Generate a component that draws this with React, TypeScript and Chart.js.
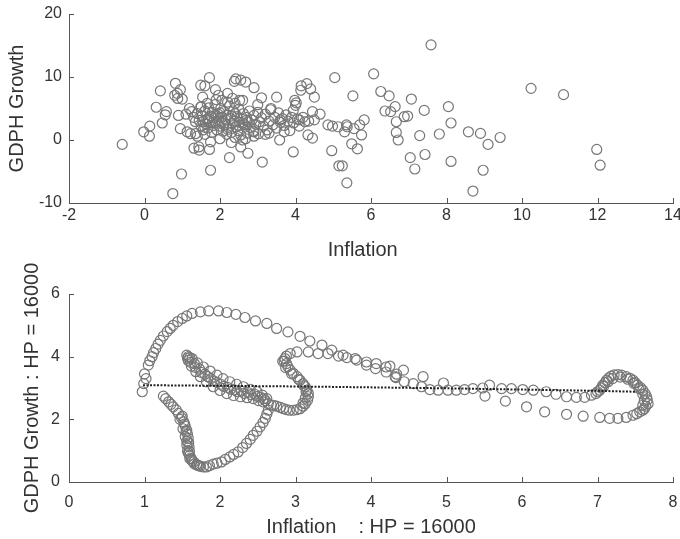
import React, { useEffect, useRef } from "react";
import { Chart, registerables } from "chart.js";

Chart.register(...registerables);

type Pt = [number, number];

// ---------- Top panel: Inflation vs GDPH Growth (raw) ----------
const topXTicks = { min: -2, max: 14, step: 2 };
const topYTicks = { min: -10, max: 20, step: 10 };

const rawLowInflation: Pt[] = [
  [-0.59, -0.7], [-0.02, 1.3], [0.13, 0.6], [0.14, 2.2], [0.42, 7.8], [0.31, 5.2],
  [0.47, 2.7], [0.58, 4.5], [0.55, 4.0], [0.75, -8.5], [0.98, -5.4], [0.82, 9.0],
  [0.95, 8.0], [0.8, 7.1], [0.88, 6.6], [1.0, 6.5], [0.9, 3.9], [0.95, 1.8],
  [1.13, 1.3], [1.1, 4.1], [0.87, 7.4],
];

const rawMidInflation: Pt[] = [
  [1.19, 5.0], [1.22, 1.0], [1.35, 1.0], [1.31, -1.3], [1.44, -1.1], [1.45, -1.6],
  [1.49, 8.7], [1.54, 6.8], [1.49, 5.2], [1.72, 9.9], [1.88, 8.0], [1.72, -1.5],
  [1.75, -4.8], [1.55, 2.9], [1.96, 7.1], [2.05, 6.3], [2.2, 7.4], [2.25, -2.8],
  [2.42, 9.7], [2.55, 9.5], [2.68, 9.2], [2.52, 6.3], [2.38, 9.3], [2.9, 8.3],
  [2.74, -2.1], [2.55, -1.1], [3.1, 6.7], [3.12, -3.5], [2.9, 1.3], [3.34, 4.8],
  [3.5, 6.8], [3.58, 0.0], [3.6, 3.2], [3.7, 1.3], [3.3, 1.1], [3.94, -1.9],
  [3.98, 6.3], [4.0, 5.5], [3.94, 4.7], [4.14, 7.9], [4.3, 8.95], [4.15, 8.6],
  [4.4, 8.1], [4.5, 6.8], [4.45, 4.5], [4.1, 3.2], [4.33, 0.8], [4.45, 0.3],
  [4.65, 4.1], [4.86, 2.4], [4.98, 2.2], [5.04, 9.9], [4.96, -1.7], [5.15, -4.1],
  [1.6, 8.6], [1.66, 5.8], [2.33, 6.6], [4.02, 5.9], [5.13, 2.1], [5.35, 2.4],
];

const rawCore: Pt[] = [
  [1.25, 4.5], [1.3, 3.6], [1.35, 2.9], [1.4, 4.2], [1.45, 3.1], [1.5, 2.2],
  [1.52, 3.8], [1.55, 1.6], [1.6, 4.6], [1.62, 2.6], [1.65, 3.3], [1.68, 1.9],
  [1.7, 5.1], [1.72, 2.9], [1.75, 3.8], [1.78, 1.2], [1.8, 4.4], [1.82, 2.3],
  [1.85, 3.5], [1.87, 5.6], [1.9, 2.8], [1.92, 1.6], [1.95, 4.1], [1.97, 3.0],
  [2.0, 2.2], [2.02, 5.0], [2.05, 3.6], [2.08, 1.4], [2.1, 4.5], [2.12, 2.7],
  [2.15, 3.2], [2.18, 0.9], [2.2, 4.0], [2.22, 2.0], [2.25, 5.4], [2.28, 3.4],
  [2.3, 1.2], [2.32, 2.6], [2.35, 4.6], [2.38, 3.0], [2.4, 0.4], [2.42, 2.1],
  [2.45, 3.7], [2.48, 1.5], [2.5, 4.9], [2.52, 2.8], [2.55, 0.8], [2.58, 3.3],
  [2.6, 1.9], [2.62, 4.2], [2.65, 2.4], [2.68, 0.2], [2.7, 3.6], [2.72, 1.1],
  [2.75, 2.9], [2.78, 4.6], [2.8, 2.0], [2.85, 3.2], [2.88, 1.4], [2.9, 3.9],
  [2.95, 2.5], [3.0, 4.4], [3.02, 1.0], [3.05, 2.9], [3.1, 3.5], [3.15, 2.2],
  [3.2, 4.1], [3.25, 1.6], [3.3, 3.0], [3.35, 5.0], [3.4, 2.4], [3.45, 3.6],
  [3.5, 1.9], [3.55, 4.3], [3.6, 2.8], [3.65, 3.4], [3.7, 2.3], [3.75, 4.0],
  [3.8, 3.0], [3.85, 1.5], [3.9, 3.6], [3.95, 2.7], [4.05, 3.3], [4.1, 2.2],
  [4.2, 3.6], [4.25, 2.9], [4.35, 3.0], [4.5, 3.2], [1.4, 0.6], [1.6, 0.9],
  [1.75, -0.3], [2.0, 0.2], [2.3, -0.4], [2.6, 0.0], [2.9, 0.6], [3.2, 0.9],
  [2.2, 6.0], [2.6, 6.3], [1.9, 6.4], [2.4, 5.8], [3.0, 5.6], [1.5, 5.3],
  [1.7, 3.4], [1.9, 3.9], [2.1, 2.4], [2.3, 3.8], [2.5, 2.3], [2.7, 3.1],
  [1.8, 2.7], [2.0, 4.3], [2.2, 1.7], [2.4, 4.2], [1.6, 2.0], [2.6, 2.7],
];

const rawHighInflation: Pt[] = [
  [7.59, 15.1], [6.07, 10.5], [5.52, 7.0], [6.26, 7.7], [6.48, 7.0], [7.07, 6.5],
  [6.64, 5.3], [6.37, 4.6], [6.52, 4.5], [7.41, 4.7], [8.05, 5.3], [6.88, 3.7],
  [6.97, 3.8], [6.67, 2.9], [6.67, 1.2], [6.72, 0.0], [8.12, 2.7], [7.29, 0.7],
  [7.81, 0.95], [8.58, 1.3], [8.9, 1.05], [9.42, 0.4], [9.1, -0.7], [5.82, 3.2],
  [5.7, 2.4], [5.55, 1.8], [5.37, 2.1], [5.3, 1.3], [5.75, 0.8], [5.49, -0.6],
  [5.64, -1.4], [5.24, -4.1], [5.36, -6.8], [7.04, -2.8], [7.43, -2.3], [7.16, -4.6],
  [8.12, -3.4], [8.97, -4.8], [8.7, -8.1], [10.24, 8.2], [11.1, 7.2], [11.98, -1.5],
  [12.07, -4.0],
];

// ---------- Bottom panel: HP-filtered trends (HP = 16000) ----------
const hpXTicks = { min: 0, max: 8, step: 1 };
const hpYTicks = { min: 0, max: 6, step: 2 };

const hpOuterArc: Pt[] = [
  [0.97, 2.88], [0.99, 3.14], [1.02, 3.3], [1.0, 3.45], [1.05, 3.73], [1.07, 3.87],
  [1.1, 4.0], [1.12, 4.13], [1.15, 4.26], [1.18, 4.4], [1.21, 4.52], [1.25, 4.66],
  [1.3, 4.8], [1.34, 4.9], [1.38, 5.0], [1.44, 5.12], [1.5, 5.22], [1.56, 5.3],
  [1.63, 5.38], [1.74, 5.43], [1.85, 5.46], [1.98, 5.46], [2.09, 5.41], [2.21, 5.35],
  [2.33, 5.25], [2.47, 5.14], [2.62, 5.06], [2.75, 4.9], [2.9, 4.79], [3.06, 4.65],
  [3.19, 4.5], [3.35, 4.37], [3.48, 4.21], [3.63, 4.05], [3.79, 3.94], [3.94, 3.83],
  [4.07, 3.78], [4.2, 3.67], [4.34, 3.44],
];

const hpMidTrail: Pt[] = [
  [2.93, 4.1], [3.02, 4.15], [3.17, 4.15], [3.3, 4.1], [3.43, 4.1], [3.57, 4.02],
  [3.68, 3.97], [3.81, 3.89], [3.94, 3.73], [4.06, 3.62], [4.2, 3.51], [4.33, 3.33],
  [4.43, 3.57], [4.25, 3.7], [4.32, 3.36], [4.44, 3.2], [4.56, 3.14], [4.69, 3.36],
  [4.67, 3.04], [4.78, 2.95], [4.89, 2.93], [4.96, 3.16], [5.02, 2.93], [5.13, 2.93],
  [5.24, 2.95], [5.35, 2.98], [5.48, 3.0], [5.57, 3.09], [5.73, 2.98], [5.86, 2.98],
  [6.01, 2.95], [6.15, 2.93], [6.32, 2.88], [6.45, 2.8], [6.59, 2.72], [6.72, 2.7],
  [6.83, 2.7], [6.92, 2.77], [6.98, 2.82],
];

const hpLowerTrail: Pt[] = [
  [5.51, 2.74], [5.78, 2.58], [6.06, 2.4], [6.3, 2.24], [6.59, 2.16], [6.81, 2.1],
  [7.03, 2.06], [7.16, 2.03], [7.27, 2.03], [7.38, 2.06], [7.47, 2.13], [7.56, 2.24],
  [7.62, 2.34], [7.67, 2.5],
];

const hpRightLoop: Pt[] = [
  [7.03, 2.93], [7.07, 3.09], [7.12, 3.25], [7.18, 3.38], [7.27, 3.43], [7.38, 3.36],
  [7.47, 3.25], [7.53, 3.09], [7.6, 2.93], [7.65, 2.72], [7.05, 3.0], [7.1, 3.17],
  [7.15, 3.32], [7.22, 3.42], [7.32, 3.41], [7.43, 3.31], [7.5, 3.17], [7.57, 3.01],
  [7.63, 2.82], [7.66, 2.62], [7.64, 2.42], [7.6, 2.29], [7.52, 2.18], [7.0, 2.88],
  [7.08, 3.05], [7.14, 3.2], [7.2, 3.3], [7.3, 3.35], [7.4, 3.28], [7.48, 3.15],
  [7.55, 2.98], [7.6, 2.8], [7.62, 2.6], [7.6, 2.45],
];

const hpSCurve: Pt[] = [
  [2.86, 3.94], [2.88, 3.78], [2.93, 3.57], [3.02, 3.36], [3.1, 3.14], [3.15, 2.93],
  [3.17, 2.72], [3.13, 2.5], [3.06, 2.34], [2.97, 2.29], [2.88, 2.31], [2.8, 2.38],
  [2.71, 2.45], [2.85, 3.86], [2.9, 3.68], [2.97, 3.47], [3.06, 3.25], [3.13, 3.04],
  [3.17, 2.83], [3.16, 2.61], [3.1, 2.42], [3.02, 2.31], [2.92, 2.29], [2.84, 2.34],
  [2.75, 2.42], [2.88, 4.02], [2.83, 3.85], [2.87, 3.65], [2.95, 3.45], [3.04, 3.28],
  [3.11, 3.08], [3.14, 2.88], [3.13, 2.68], [3.1, 2.52],
];

const hpInnerBand: Pt[] = [
  [1.56, 4.05], [1.58, 4.0], [1.63, 3.94], [1.7, 3.8], [1.78, 3.67], [1.87, 3.54],
  [1.96, 3.41], [2.04, 3.3], [2.13, 3.2], [2.22, 3.12], [2.31, 3.04], [2.4, 2.96],
  [2.49, 2.88], [2.56, 2.77], [2.62, 2.66], [1.58, 3.88], [1.62, 3.7], [1.68, 3.52],
  [1.74, 3.36], [1.82, 3.2], [1.91, 3.04], [2.0, 2.92], [2.09, 2.82], [2.18, 2.76],
  [2.27, 2.72], [2.36, 2.69], [2.44, 2.66], [2.51, 2.6], [2.57, 2.56], [2.64, 2.5],
  [1.6, 3.97], [1.66, 3.78], [1.73, 3.6], [1.8, 3.44], [1.88, 3.3], [1.96, 3.18],
  [2.05, 3.05], [2.14, 2.96], [2.23, 2.88], [2.32, 2.83], [2.41, 2.79], [2.5, 2.73],
  [2.58, 2.66], [1.57, 3.95], [1.61, 3.82], [1.67, 3.66], [1.75, 3.5], [1.84, 3.36],
  [1.92, 3.22], [2.01, 3.12], [2.1, 3.02], [2.19, 2.94], [2.28, 2.9], [2.37, 2.86],
  [2.46, 2.8], [2.54, 2.7], [2.6, 2.6],
];

const hpVCurve: Pt[] = [
  [1.25, 2.74], [1.28, 2.66], [1.32, 2.56], [1.35, 2.48], [1.38, 2.4], [1.42, 2.3],
  [1.45, 2.19], [1.49, 2.05], [1.52, 1.92], [1.54, 1.78], [1.56, 1.65], [1.57, 1.52],
  [1.58, 1.39], [1.585, 1.25], [1.59, 1.12], [1.595, 0.98], [1.6, 0.85], [1.62, 0.74],
  [1.65, 0.64], [1.69, 0.56], [1.74, 0.5], [1.78, 0.48], [1.82, 0.48], [1.86, 0.52],
  [1.91, 0.57], [1.96, 0.6], [2.02, 0.64], [2.07, 0.72], [2.13, 0.8], [2.18, 0.88],
  [2.24, 0.96], [2.3, 1.1], [2.35, 1.23], [2.4, 1.36], [2.44, 1.49], [2.49, 1.62],
  [2.53, 1.76], [2.57, 1.9], [2.6, 2.03], [2.62, 2.16], [2.64, 2.29], [2.68, 2.45],
  [1.5, 2.1], [1.53, 1.85], [1.55, 1.6], [1.56, 1.3], [1.57, 1.0], [1.6, 0.75],
  [1.66, 0.58], [1.72, 0.52], [1.47, 2.0], [1.51, 1.7], [1.54, 1.45], [1.56, 1.18],
  [1.58, 0.92], [1.63, 0.68], [1.7, 0.53],
];

const hpTrendLine: Pt[] = [
  [0.98, 3.09], [2.0, 3.07], [3.0, 3.05], [4.0, 3.02], [5.0, 2.99], [6.0, 2.95],
  [7.0, 2.91], [7.52, 2.88],
];

// ---------- styling ----------
const FONT = '"Liberation Sans", Arial, Helvetica, sans-serif';
const AXIS_COLOR = "#555555";
const TEXT_COLOR = "#333333";
const MARK_COLOR = "#777777";

const inwardTicks = {
  id: "inwardTicks",
  afterDraw(chart: any) {
    const { ctx } = chart;
    const xs = chart.scales.x;
    const ys = chart.scales.y;
    ctx.save();
    ctx.strokeStyle = AXIS_COLOR;
    ctx.lineWidth = 1;
    ctx.beginPath();
    xs.ticks.forEach((t: any) => {
      const px = Math.round(xs.getPixelForValue(t.value)) + 0.5;
      ctx.moveTo(px, ys.bottom);
      ctx.lineTo(px, ys.bottom - 5);
    });
    ys.ticks.forEach((t: any) => {
      const py = Math.round(ys.getPixelForValue(t.value)) + 0.5;
      ctx.moveTo(xs.left, py);
      ctx.lineTo(xs.left + 5, py);
    });
    ctx.stroke();
    ctx.restore();
  },
};

interface PanelOpts {
  xr: { min: number; max: number; step: number };
  yr: { min: number; max: number; step: number };
  xTitle: string;
  yTitle: string;
  xTitlePadBottom: number;
  yTitlePadTop: number;
  xTickPad: number;
  yTickPad: number;
  yWidth: number;
  xHeight: number;
  padTop: number;
}

function buildOptions(o: PanelOpts): any {
  const tickFont = { family: FONT, size: 16 };
  const titleFont = { family: FONT, size: 20 };
  return {
    responsive: false,
    animation: false,
    devicePixelRatio: 1,
    events: [],
    layout: { padding: { top: o.padTop, right: 7, left: 0, bottom: 0 } },
    plugins: { legend: { display: false }, tooltip: { enabled: false } },
    scales: {
      x: {
        type: "linear",
        position: "bottom",
        min: o.xr.min,
        max: o.xr.max,
        ticks: {
          stepSize: o.xr.step,
          color: TEXT_COLOR,
          font: tickFont,
          padding: o.xTickPad,
          maxRotation: 0,
          autoSkip: false,
        },
        grid: { display: false, drawTicks: false },
        border: { display: true, color: AXIS_COLOR, width: 1 },
        title: {
          display: true,
          text: o.xTitle,
          color: TEXT_COLOR,
          font: titleFont,
          padding: { top: 0, bottom: o.xTitlePadBottom },
        },
        afterFit: (s: any) => {
          s.height = o.xHeight;
          s.paddingLeft = 0;
          s.paddingRight = 0;
        },
      },
      y: {
        type: "linear",
        position: "left",
        min: o.yr.min,
        max: o.yr.max,
        ticks: {
          stepSize: o.yr.step,
          color: TEXT_COLOR,
          font: tickFont,
          padding: o.yTickPad,
          autoSkip: false,
        },
        grid: { display: false, drawTicks: false },
        border: { display: true, color: AXIS_COLOR, width: 1 },
        title: {
          display: true,
          text: o.yTitle,
          color: TEXT_COLOR,
          font: titleFont,
          padding: { top: o.yTitlePadTop, bottom: 0 },
        },
        afterFit: (s: any) => {
          s.width = o.yWidth;
          s.paddingTop = 0;
          s.paddingBottom = 0;
        },
      },
    },
  };
}

const toXY = (pts: Pt[]) => pts.map(([x, y]) => ({ x, y }));

const markerSet = (pts: Pt[]) => ({
  type: "scatter" as const,
  data: toXY(pts),
  pointStyle: "circle",
  pointRadius: 5,
  pointBorderWidth: 1.2,
  pointBackgroundColor: "rgba(0,0,0,0)",
  pointBorderColor: MARK_COLOR,
  showLine: false,
});

export default function App() {
  const topRef = useRef<HTMLCanvasElement | null>(null);
  const botRef = useRef<HTMLCanvasElement | null>(null);

  useEffect(() => {
    if (!topRef.current || !botRef.current) return;
    const top = new Chart(topRef.current, {
      type: "scatter",
      data: {
        datasets: [
          markerSet(rawLowInflation),
          markerSet(rawMidInflation),
          markerSet(rawCore),
          markerSet(rawHighInflation),
        ] as any,
      },
      options: buildOptions({
        xr: topXTicks,
        yr: topYTicks,
        xTitle: "Inflation\u00a0\u00a0\u00a0",
        yTitle: "GDPH Growth",
        xTitlePadBottom: 3,
        yTitlePadTop: 5,
        xTickPad: 3,
        yTickPad: 7,
        yWidth: 69,
        xHeight: 62,
        padTop: 14,
      }),
      plugins: [inwardTicks as any],
    });

    const bottom = new Chart(botRef.current, {
      type: "scatter",
      data: {
        datasets: [
          {
            type: "scatter",
            data: toXY(hpTrendLine),
            showLine: true,
            pointRadius: 0,
            borderColor: "#222222",
            borderWidth: 2,
            borderDash: [2, 1.5],
            fill: false,
          },
          markerSet(hpOuterArc),
          markerSet(hpMidTrail),
          markerSet(hpLowerTrail),
          markerSet(hpRightLoop),
          markerSet(hpSCurve),
          markerSet(hpInnerBand),
          markerSet(hpVCurve),
        ] as any,
      },
      options: buildOptions({
        xr: hpXTicks,
        yr: hpYTicks,
        xTitle: "Inflation    : HP = 16000",
        yTitle: "GDPH Growth : HP = 16000",
        xTitlePadBottom: 0,
        yTitlePadTop: 20,
        xTickPad: 11,
        yTickPad: 9,
        yWidth: 69,
        xHeight: 57,
        padTop: 59,
      }),
      plugins: [inwardTicks as any],
    });

    return () => {
      top.destroy();
      bottom.destroy();
    };
  }, []);

  return (
    <div
      style={{
        position: "absolute",
        left: 0,
        top: 0,
        width: 680,
        height: 539,
        overflow: "hidden",
        background: "#ffffff",
      }}
    >
      <canvas
        ref={topRef}
        width={680}
        height={265}
        style={{ position: "absolute", left: 0, top: 0, width: 680, height: 265 }}
      />
      <canvas
        ref={botRef}
        width={680}
        height={304}
        style={{ position: "absolute", left: 0, top: 235, width: 680, height: 304 }}
      />
    </div>
  );
}
